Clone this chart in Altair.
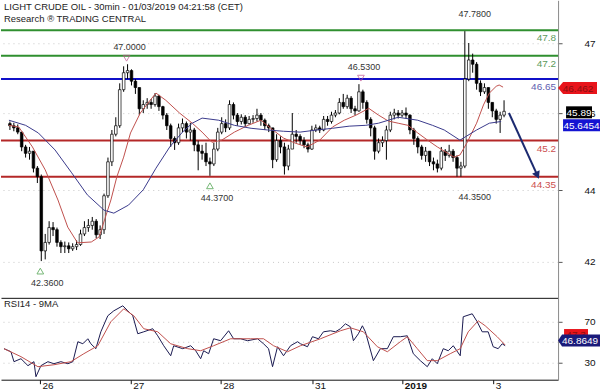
import altair as alt
import pandas as pd

FONT = "Liberation Sans"

# ---------------- price bars (1 bar ~ 1 hour), index k = 1..127 ----------------
first_open = 45.60
closes = [45.55, 45.50, 45.40, 45.05, 44.90, 44.95, 44.55, 44.35, 42.60, 42.80,
          43.15, 43.10, 42.80, 42.70, 42.72, 42.65, 42.70, 42.75, 43.00, 43.15,
          43.20, 43.30, 42.98, 43.10, 43.90, 44.70, 45.35, 45.55, 46.40, 46.80,
          46.85, 46.60, 46.45, 45.95, 46.05, 46.10, 46.05, 46.25, 46.00, 45.80,
          45.55, 45.25, 45.15, 45.50, 45.60, 45.40, 45.45, 45.10, 44.95, 44.90,
          44.70, 44.65, 45.00, 45.40, 45.60, 45.50, 46.05, 45.80, 45.65, 45.75,
          45.60, 45.70, 45.72, 45.80, 45.68, 45.55, 45.50, 44.75, 45.20, 45.05,
          44.60, 45.00, 45.35, 45.30, 45.20, 45.10, 45.00, 45.45, 45.50, 45.45,
          45.70, 45.65, 45.80, 45.85, 46.10, 46.00, 46.20, 45.95, 45.90, 46.35,
          46.10, 45.70, 45.50, 44.95, 45.15, 45.20, 45.45, 45.80, 45.85, 45.80,
          45.85, 45.80, 45.45, 45.25, 45.05, 44.85, 44.95, 44.70, 44.65, 44.55,
          44.95, 44.85, 44.95, 44.80, 44.55, 44.60, 46.65, 47.10, 47.00, 46.55,
          46.35, 46.45, 46.10, 45.90, 45.70, 45.80, 45.89]
highs = [45.65, 45.62, 45.58, 45.40, 45.10, 45.05, 44.95, 44.60, 44.40, 43.00,
         43.30, 43.28, 43.15, 42.85, 42.82, 42.80, 42.78, 42.85, 43.10, 43.30,
         43.35, 43.40, 43.35, 43.20, 43.95, 44.80, 45.45, 45.75, 46.55, 46.95,
         47.00, 46.88, 46.65, 46.45, 46.15, 46.20, 46.18, 46.32, 46.28, 46.02,
         45.85, 45.60, 45.30, 45.60, 45.72, 45.65, 45.62, 45.50, 45.20, 45.10,
         45.15, 44.80, 45.15, 45.50, 45.75, 45.70, 46.15, 46.10, 45.85, 45.82,
         45.80, 45.78, 45.80, 45.95, 45.85, 45.72, 45.60, 45.50, 45.35, 45.30,
         45.15, 45.10, 45.85, 45.45, 45.35, 45.28, 45.15, 45.55, 45.58, 45.55,
         45.78, 45.78, 45.88, 45.92, 46.20, 46.30, 46.28, 46.25, 46.02, 46.53,
         46.40, 46.15, 45.75, 45.55, 45.25, 45.30, 45.55, 45.88, 45.95, 45.92,
         45.92, 45.98, 45.82, 45.50, 45.30, 45.10, 45.05, 44.95, 44.80, 44.75,
         45.05, 45.00, 45.10, 45.00, 44.85, 44.70, 47.78, 47.50, 47.25, 47.05,
         46.62, 46.55, 46.45, 46.10, 45.95, 45.88, 46.15]
lows = [45.45, 45.42, 45.35, 44.95, 44.80, 44.75, 44.45, 44.20, 42.36, 42.40,
        42.75, 42.95, 42.70, 42.55, 42.55, 42.55, 42.60, 42.62, 42.72, 42.95,
        43.05, 43.10, 42.90, 42.88, 43.00, 43.85, 44.60, 45.30, 45.50, 46.35,
        46.65, 46.50, 46.30, 45.80, 45.85, 45.95, 45.95, 46.00, 45.90, 45.70,
        45.45, 45.05, 44.98, 45.10, 45.40, 45.25, 45.20, 44.95, 44.50, 44.75,
        44.60, 44.37, 44.60, 44.95, 45.35, 45.40, 45.45, 45.70, 45.55, 45.58,
        45.52, 45.58, 45.62, 45.65, 45.55, 45.45, 45.40, 44.55, 44.70, 44.90,
        44.40, 44.50, 45.00, 45.15, 45.10, 45.02, 44.92, 44.98, 45.40, 45.38,
        45.42, 45.55, 45.60, 45.75, 45.82, 45.95, 45.95, 45.85, 45.80, 45.88,
        45.95, 45.60, 45.30, 44.75, 44.90, 45.05, 44.75, 45.40, 45.70, 45.72,
        45.75, 45.72, 45.35, 45.10, 44.90, 44.75, 44.70, 44.60, 44.50, 44.45,
        44.50, 44.72, 44.80, 44.70, 44.35, 44.35, 44.55, 46.60, 46.80, 46.40,
        46.25, 46.30, 45.95, 45.75, 45.60, 45.38, 45.75]

# ---------------- moving averages (sampled) ----------------
ma_fast_k = [0.75, 3.25, 6.75, 10, 13.25, 15.75, 18.25, 21.75, 23.75, 26.75, 28.25, 30,
             31.75, 34.25, 36.75, 38.25, 40.75, 44.25, 47.5, 50, 52.5, 55, 58.25, 61.75,
             65, 67.5, 70.75, 73.75, 76.75, 80, 83.25, 86.25, 89.25, 92.5, 95, 97.5, 100,
             102.5, 105, 107.5, 110, 112.5, 114.25, 115.75, 117.5, 120, 121.75, 123.25,
             125, 125.75, 126.75]
ma_fast = [45.56, 45.52, 45.05, 44.51, 43.80, 43.16, 42.79, 42.81, 42.93, 43.80, 44.34, 44.81,
           45.38, 45.85, 46.15, 46.32, 46.15, 45.85, 45.61, 45.40, 45.16, 45.21, 45.40, 45.56,
           45.68, 45.49, 45.26, 45.14, 45.05, 45.21, 45.52, 45.68, 45.80, 45.96, 45.80, 45.66,
           45.61, 45.56, 45.38, 45.21, 45.05, 44.91, 44.81, 44.86, 45.14, 45.61, 46.04, 46.32,
           46.48, 46.51, 46.46]
ma_slow_k = [0.75, 5, 8.25, 12.5, 16.75, 20.75, 25, 27.5, 31.25, 35, 38.25, 41.75, 45, 47.5,
             50, 54.25, 58.25, 62.5, 66.75, 70.75, 75, 79.25, 83.25, 87.5, 91.75, 95, 100,
             105, 108.75, 111.75, 115.75, 120, 123.25, 126.25]
ma_slow = [45.68, 45.56, 45.38, 44.98, 44.44, 43.92, 43.56, 43.49, 43.68, 44.04, 44.55, 45.05,
           45.40, 45.61, 45.73, 45.68, 45.56, 45.49, 45.45, 45.42, 45.40, 45.45, 45.49, 45.54,
           45.56, 45.61, 45.75, 45.68, 45.56, 45.45, 45.21, 45.45, 45.61, 45.65]

# ---------------- RSI14 and its 9MA (sampled) ----------------
rsi_k = [0.75, 2.5, 3.25, 5, 6.75, 8.25, 8.75, 10, 11.75, 13.25, 15, 16.75, 18, 19.25, 20.5,
         21.75, 22.5, 23.75, 25, 26.75, 28.25, 30.5, 31.75, 33, 34.25, 35.75, 38, 39.25,
         40.75, 42.5, 43.25, 45.5, 47.5, 48.75, 50, 50.75, 52, 53.25, 55, 57, 58.25, 60,
         61.75, 64.25, 65.75, 67, 68, 69.25, 70.75, 72.5, 74.25, 75, 76.75, 78, 79.5, 80.75,
         82.5, 83.75, 85, 86.25, 87.5, 88.25, 89.5, 90.5, 91.25, 93.25, 95, 96.75, 98.25,
         100, 101.75, 103.25, 105, 106.75, 108, 109.25, 110.75, 112, 113.25, 115, 115.75,
         118, 119.25, 120.5, 122, 123.25, 124.5, 125.5, 126.25]
rsi = [43.7, 40.7, 31.0, 33.9, 27.1, 31.0, 16.3, 27.1, 31.0, 29.0, 31.0, 29.0, 31.0, 50.5, 48.5,
       53.4, 48.5, 43.7, 60.2, 75.9, 80.7, 85.6, 80.7, 75.9, 58.3, 60.2, 63.2, 56.3,
       46.6, 36.8, 46.6, 43.7, 46.6, 41.7, 33.9, 41.7, 38.8, 53.4, 51.5, 61.2, 53.4, 53.4,
       51.5, 53.4, 48.5, 43.7, 26.1, 45.6, 36.8, 46.6, 50.5, 48.5, 45.6, 55.4, 53.4, 60.2,
       61.2, 60.2, 63.2, 68.0, 65.1, 51.5, 58.3, 66.1, 60.2, 32.0, 43.7, 43.7, 55.4,
       55.4, 56.3, 38.8, 32.0, 26.1, 33.9, 29.0, 43.7, 41.7, 46.6, 36.8, 74.9,
       77.8, 70.0, 60.2, 60.2, 45.6, 43.7, 48.5, 46.6]
rsi_ma_k = [0.75, 5, 9.25, 13.25, 17.5, 20.75, 24.25, 27.5, 30.75, 33.25, 35.75, 39.25, 42.5,
            46.75, 50, 53.25, 57.5, 62.5, 65.75, 68.25, 71.75, 75, 80, 85, 87.5, 90.75, 94.25,
            96.75, 100, 101.75, 104.25, 106.75, 109.25, 112.5, 115, 117, 119.5, 121.25,
            124.25, 126.25]
rsi_ma = [43.7, 35.9, 26.1, 28.0, 31.0, 38.8, 46.6, 70.0, 82.7, 75.9, 63.2, 60.2, 48.5,
          43.7, 41.7, 46.6, 53.4, 53.4, 53.4, 46.6, 40.7, 46.6, 53.4, 61.2, 64.1, 60.2, 45.6,
          40.7, 50.5, 55.4, 43.7, 32.0, 32.0, 38.8, 43.7, 60.2, 71.0, 66.1,
          55.4, 47.3]

# ---------------- levels, ticks, annotations ----------------
levels = [47.8, 47.2, 46.65, 45.2, 44.35]
level_labels = ["47.8", "47.2", "46.65", "45.2", "44.35"]
level_colors = ["#2f8f2f", "#2f8f2f", "#1010c8", "#b42828", "#b42828"]
level_text_colors = ["#5a9a5a", "#5a9a5a", "#6060b0", "#cc5050", "#cc5050"]

day_ticks = [9.75, 32.5, 55.0, 78.0, 100.5, 123.25]
day_labels = ["26", "27", "28", "31", "2019", "3"]

price_ticks = [47.494, 45.847, 44.035, 42.341]
price_tick_labels = ["47", "46", "44", "42"]

low_marks_k = [8.75, 52.0]
low_marks_v = [42.36, 44.37]
low_marks_t = ["42.3600", "44.3700"]
high_marks_k = [30.75, 90.5]
high_marks_v = [47.00, 46.53]
high_marks_t = ["47.0000", "46.5300"]
extra_k = [117.5, 117.5]
extra_v = [47.78, 44.35]
extra_t = ["47.7800", "44.3500"]

arrow_k = [128.25, 135.5]
arrow_v = [45.85, 44.38]

# ---------------- build data ----------------
n = len(closes)
opens = [first_open] + closes[:-1]
bars = pd.DataFrame({
    "k": list(range(1, n + 1)),
    "o": opens, "c": closes, "h": highs, "l": lows,
})
bars["fill"] = ["white" if c >= o else "black" for o, c in zip(opens, closes)]

ys = alt.Scale(domain=[41.494, 48.506], nice=False, zero=False)
xs = alt.Scale(domain=[0, 139.5], nice=False, zero=False)
rs = alt.Scale(domain=[13.4, 93.4], nice=False, zero=False)


def arr(vals):
    return "[" + ",".join(repr(v) for v in vals) + "]"


def strarr(vals):
    return "[" + ",".join("'" + v + "'" for v in vals) + "]"


ax_main_y = alt.Axis(orient="right", values=price_ticks,
                     labelExpr=strarr(price_tick_labels) + "[indexof(" + arr(price_ticks) + ", datum.value)]",
                     grid=True, gridColor="#c8c8c8", gridDash=[1, 4], domainColor="#8a8a8a",
                     tickColor="#555555", tickSize=4, labelPadding=22, labelFontSize=10,
                     labelFont=FONT, labelColor="#111111", title=None)
ax_main_x = alt.Axis(domain=True, domainColor="#111111", ticks=False, labels=False,
                     grid=False, title=None)
ax_rsi_y = alt.Axis(orient="right", values=[30, 50, 70], grid=True, gridColor="#c8c8c8",
                    gridDash=[1, 4], domainColor="#8a8a8a", tickColor="#555555", tickSize=4,
                    labelPadding=22, labelFontSize=10, labelFont=FONT, labelColor="#111111",
                    title=None)
ax_rsi_x = alt.Axis(values=day_ticks,
                    labelExpr=strarr(day_labels) + "[indexof(" + arr(day_ticks) + ", datum.value)]",
                    domainColor="#111111", tickColor="#111111", tickSize=4, labelAlign="left",
                    labelBaseline="top", labelPadding=-3, labelOffset=2, labelFontSize=10,
                    labelFont=FONT, labelColor="#111111", grid=False, title=None,
                    labelFontWeight={"condition": {"test": "datum.value > 100 && datum.value < 101",
                                                   "value": "bold"}, "value": "normal"})


def XM(f):
    return alt.X(f, type="quantitative", scale=xs, axis=ax_main_x)


def YM(f):
    return alt.Y(f, type="quantitative", scale=ys, axis=ax_main_y)


def XR(f):
    return alt.X(f, type="quantitative", scale=xs, axis=ax_rsi_x)


def YR(f):
    return alt.Y(f, type="quantitative", scale=rs, axis=ax_rsi_y)


lv = pd.DataFrame({"v": levels, "t": level_labels, "c": level_colors, "tc": level_text_colors})
level_rules = alt.Chart(lv).mark_rule(strokeWidth=2).encode(
    y=YM("v"), color=alt.Color("c:N", scale=None))
level_text = alt.Chart(lv).mark_text(align="right", baseline="top", dy=3, fontSize=10,
                                     font=FONT).encode(
    x=alt.value(556), y=YM("v"), text="t:N", color=alt.Color("tc:N", scale=None))

wicks = alt.Chart(bars).mark_rule(color="black", strokeWidth=1).encode(
    x=XM("k"), y=YM("l"), y2=alt.Y2("h"))
bodies = alt.Chart(bars).mark_bar(size=2.6, stroke="black", strokeWidth=0.7).encode(
    x=XM("k"), y=YM("o"), y2=alt.Y2("c"), fill=alt.Fill("fill:N", scale=None))

fast = alt.Chart(pd.DataFrame({"k": ma_fast_k, "v": ma_fast})).mark_line(
    color="#c0504d", strokeWidth=1).encode(x=XM("k"), y=YM("v"))
slow = alt.Chart(pd.DataFrame({"k": ma_slow_k, "v": ma_slow})).mark_line(
    color="#3a3a8c", strokeWidth=1).encode(x=XM("k"), y=YM("v"))

lowdf = pd.DataFrame({"k": low_marks_k, "v": low_marks_v, "t": low_marks_t})
highdf = pd.DataFrame({"k": high_marks_k, "v": high_marks_v, "t": high_marks_t})
exdf = pd.DataFrame({"k": extra_k, "v": extra_v, "t": extra_t})

low_tri = alt.Chart(lowdf).mark_point(shape="triangle-up", size=45, filled=False,
                                      color="#3c9a3c", strokeWidth=1, yOffset=10).encode(
    x=XM("k"), y=YM("v"))
low_txt = alt.Chart(lowdf).mark_text(fontSize=9, font=FONT, color="#333333", dy=22,
                                     dx=7).encode(x=XM("k"), y=YM("v"), text="t:N")
high_tri = alt.Chart(highdf).mark_point(shape="triangle-down", size=45, filled=False,
                                        color="#c05090", strokeWidth=1, yOffset=-6).encode(
    x=XM("k"), y=YM("v"))
high_txt = alt.Chart(highdf).mark_text(fontSize=9, font=FONT, color="#333333", dy=-17,
                                       dx=3).encode(x=XM("k"), y=YM("v"), text="t:N")
ex_txt1 = alt.Chart(exdf.iloc[[0]]).mark_text(fontSize=9, font=FONT, color="#333333",
                                              dy=-17, dx=8).encode(x=XM("k"), y=YM("v"), text="t:N")
ex_txt2 = alt.Chart(exdf.iloc[[1]]).mark_text(fontSize=9, font=FONT, color="#333333",
                                              dy=20, dx=8).encode(x=XM("k"), y=YM("v"), text="t:N")

arrow_df = pd.DataFrame({"k": [arrow_k[0]], "v": [arrow_v[0]], "k2": [arrow_k[1]], "v2": [arrow_v[1]]})
arrow_line = alt.Chart(arrow_df).mark_rule(color="#1c2a70", strokeWidth=2).encode(
    x=XM("k"), y=YM("v"), x2=alt.X2("k2"), y2=alt.Y2("v2"))
arrow_head = alt.Chart(pd.DataFrame({"k": [arrow_k[1]], "v": [arrow_v[1]]})).mark_point(
    shape="triangle-up", size=70, filled=True, color="#1c2a70", angle=155, opacity=1).encode(
    x=XM("k"), y=YM("v"))

title_df = pd.DataFrame({"t": ["LIGHT CRUDE OIL - 30min - 01/03/2019 04:21:58 (CET)"]})
title1 = alt.Chart(title_df).mark_text(align="left", baseline="middle", fontSize=9.5,
                                       font=FONT, color="#222222").encode(
    x=alt.value(3), y=alt.value(7), text="t:N")
title2 = alt.Chart(pd.DataFrame({"t": ["Research \u00ae TRADING CENTRAL"]})).mark_text(
    align="left", baseline="middle", fontSize=9.5, font=FONT, color="#222222").encode(
    x=alt.value(3), y=alt.value(19), text="t:N")


def tag(value, label, fill, tcolor, cx, yoff, path, Yf):
    d = pd.DataFrame({"v": [value], "t": [label]})
    box = alt.Chart(d).mark_point(shape=path, size=4, filled=True, color=fill, opacity=1,
                                  strokeWidth=0, yOffset=yoff).encode(x=alt.value(cx), y=Yf("v"))
    txt = alt.Chart(d).mark_text(align="center", baseline="middle", fontSize=10, font=FONT,
                                 color=tcolor, dy=yoff + 0.5).encode(
        x=alt.value(cx), y=Yf("v"), text="t:N")
    return box + txt


tag1 = tag(46.462, "46.462", "#e8141b", "#8a1010", 578, 1,
           "M-20,0 L-15,-6 L19,-6 L19,6 L-15,6 Z", YM)
tag2 = tag(45.89, "45.89", "#000000", "#ffffff", 579, 1,
           "M-13,-6 L13,-6 L13,6 L-13,6 Z", YM)
tag3 = tag(45.6454, "45.6454", "#1414d2", "#ffffff", 581.5, 3.5,
           "M-18.5,-6 L18.5,-6 L18.5,6 L-18.5,6 Z", YM)

main = alt.layer(level_rules, wicks, bodies, fast, slow, level_text, low_tri, low_txt,
                 high_tri, high_txt, ex_txt1, ex_txt2, arrow_line, arrow_head,
                 title1, title2, tag1, tag2, tag3).properties(width=558, height=298)

rsi_line = alt.Chart(pd.DataFrame({"k": rsi_k, "v": rsi})).mark_line(
    color="#1a1a50", strokeWidth=1).encode(x=XR("k"), y=YR("v"))
rsi_ma_line = alt.Chart(pd.DataFrame({"k": rsi_ma_k, "v": rsi_ma})).mark_line(
    color="#c0504d", strokeWidth=1).encode(x=XR("k"), y=YR("v"))
rsi_title = alt.Chart(pd.DataFrame({"t": ["RSI14 - 9MA"]})).mark_text(
    align="left", baseline="middle", fontSize=9.5, font=FONT, color="#222222").encode(
    x=alt.value(3), y=alt.value(6), text="t:N")
tag4 = tag(47.3, "47.3", "#e8141b", "#8a1010", 576, -11,
           "M-12,-5 L12,-5 L12,5 L-12,5 Z", YR)
tag5 = tag(46.8649, "46.8649", "#1a1a7a", "#ffffff", 580, -5,
           "M-22,0 L-18,-6 L20,-6 L20,6 L-18,6 Z", YR)

rsi_chart = alt.layer(rsi_line, rsi_ma_line, rsi_title, tag4, tag5).properties(
    width=558, height=82)

chart = alt.vconcat(main, rsi_chart, spacing=0).properties(
    autosize=alt.AutoSizeParams(type="pad"), padding=0, background="white"
).configure_view(stroke=None)

chart.save("out.html", embed_options={"renderer": "svg", "actions": False})
